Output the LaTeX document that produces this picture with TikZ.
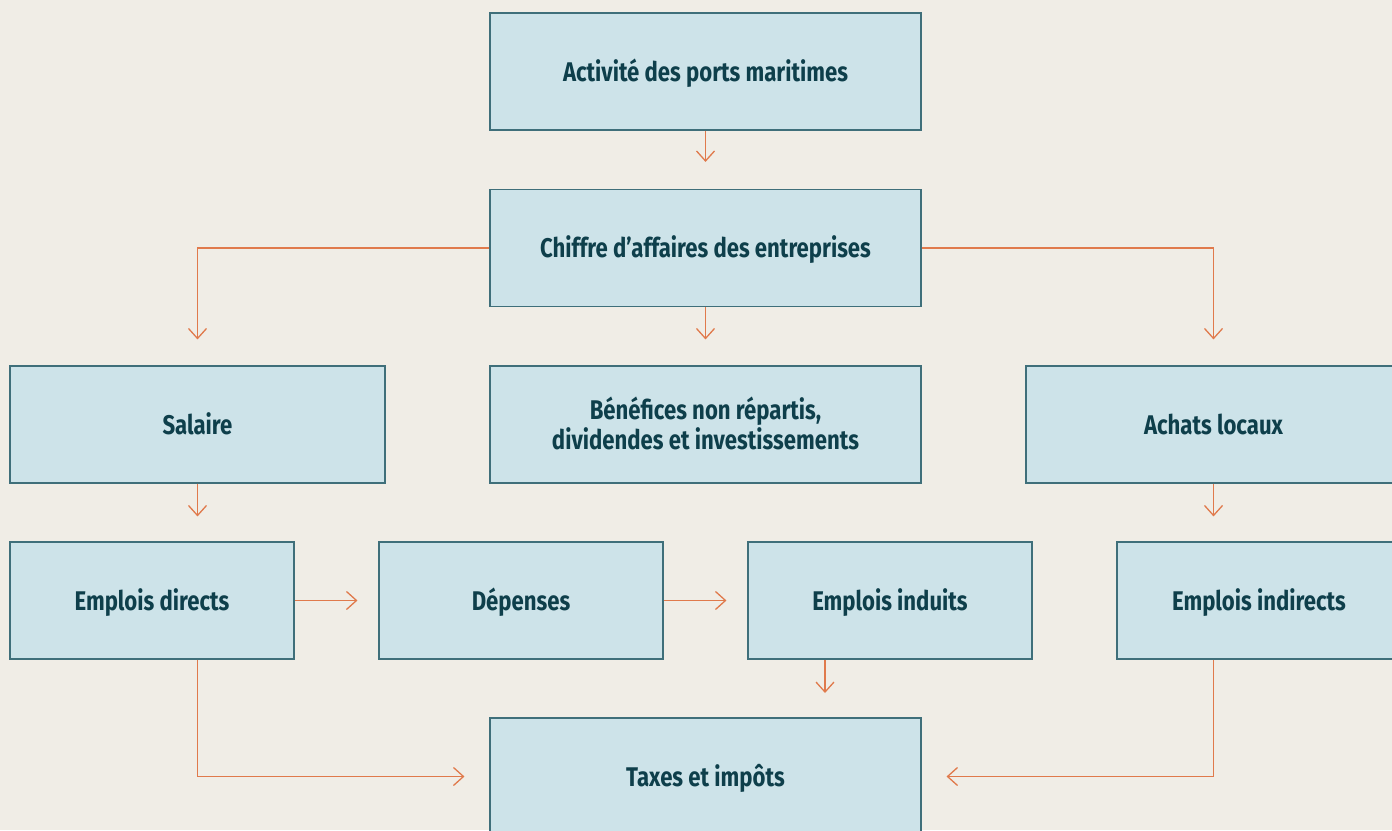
\documentclass[tikz,border=0pt]{standalone}
\usepackage{fontspec}
\setmainfont{Fira Sans}[FakeStretch=0.82]
\usetikzlibrary{arrows.meta,calc}
\definecolor{bg}{HTML}{F0EDE6}
\definecolor{boxfill}{HTML}{CDE3E9}
\definecolor{boxline}{HTML}{3F6F7A}
\definecolor{txt}{HTML}{0E3F4B}
\definecolor{arrowc}{HTML}{E07A4C}
\tikzset{
  box/.style={draw=boxline, line width=1.1pt, fill=boxfill, text=txt,
    font=\fontsize{27pt}{30pt}\selectfont\bfseries, align=center,
    minimum height=117pt, inner sep=0pt, text height=19pt, text depth=0pt},
  wide/.style={box, minimum width=431pt},
  mid/.style={box, minimum width=375pt},
  small/.style={box, minimum width=284pt},
  arr/.style={draw=arrowc, line width=1.3pt,
    -{Straight Barb[length=10pt,width=18pt,line width=1.3pt]}},
  conn/.style={draw=arrowc, line width=1.3pt}
}
\begin{document}
\begin{tikzpicture}[x=1pt,y=-1pt]
\fill[bg] (0,0) rectangle (1392,830);
\clip (0,0) rectangle (1392,830);
\node[wide] (act) at (705.5,71.5) {Activité des ports maritimes};
\node[wide] (chif) at (705.5,248) {Chiffre d’affaires des entreprises};
\node[mid] (sal) at (197.5,424.5) {Salaire};
\node[wide, text height=49pt] (ben) at (705.5,424.5) {Bénéfices non répartis,\\dividendes et investissements};
\node[mid] (ach) at (1213.5,424.5) {Achats locaux};
\node[small] (ed) at (152,600.5) {Emplois directs};
\node[small] (dep) at (521,600.5) {Dépenses};
\node[small] (ei) at (890,600.5) {Emplois induits};
\node[small] (eind) at (1259,600.5) {Emplois indirects};
\node[wide] (tax) at (705.5,776.5) {Taxes et impôts};
\coordinate (eiarr) at (825,693);

\draw[arr] (act.south) -- ([yshift=27pt]chif.north);
\draw[arr] (chif.west) -| ([yshift=26pt]sal.north);
\draw[arr] (chif.east) -| ([yshift=26pt]ach.north);
\draw[arr] (chif.south) -- ([yshift=26pt]ben.north);
\draw[arr] (sal.south) -- ([yshift=25pt]sal.south |- ed.north);
\draw[arr] (ach.south) -- ([yshift=25pt]ach.south |- eind.north);
\draw[arr] (ed.east) -- ([xshift=-21pt]dep.west);
\draw[arr] (dep.east) -- ([xshift=-21pt]ei.west);
\draw[arr] (ei.south -| eiarr) -- (eiarr);
\draw[arr] (sal.south |- ed.south) |- ([xshift=-25pt]tax.west);
\draw[arr] (ach.south |- eind.south) |- ([xshift=25pt]tax.east);
\end{tikzpicture}
\end{document}
